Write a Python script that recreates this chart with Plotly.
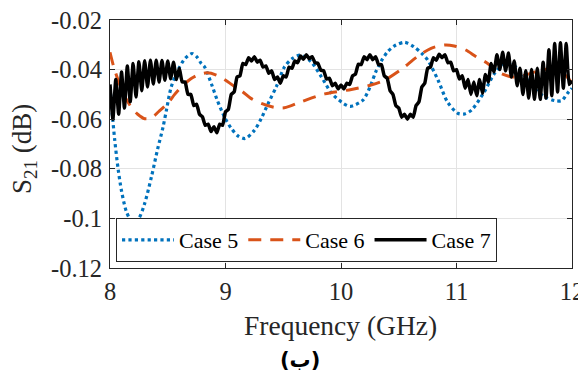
import numpy as np
import plotly.graph_objects as go

# ---------------- data ----------------
case5_freq = [8.00, 8.02, 8.04, 8.07, 8.10, 8.14, 8.18, 8.21, 8.25, 8.30, 8.36, 8.41,
              8.46, 8.49, 8.53, 8.59, 8.65, 8.71, 8.75, 8.79, 8.82, 8.88, 8.93, 8.99,
              9.05, 9.11, 9.17, 9.25, 9.31, 9.37, 9.44, 9.51, 9.58, 9.65, 9.74, 9.83,
              9.92, 10.02, 10.08, 10.19, 10.26, 10.30, 10.35, 10.40, 10.46, 10.55, 10.63,
              10.70, 10.75, 10.84, 10.92, 11.01, 11.07, 11.13, 11.24, 11.33, 11.42, 11.50,
              11.58, 11.67, 11.76, 11.85, 11.91, 11.96, 12.00]
case5_s21 = [-0.0470, -0.0580, -0.0680, -0.0800, -0.0890, -0.0970, -0.1008, -0.1015,
             -0.1000, -0.0940, -0.0830, -0.0725, -0.0630, -0.0560, -0.0470, -0.0400,
             -0.0355, -0.0335, -0.0348, -0.0375, -0.0390, -0.0460, -0.0525, -0.0590,
             -0.0637, -0.0668, -0.0678, -0.0645, -0.0597, -0.0536, -0.0469, -0.0390,
             -0.0355, -0.0342, -0.0368, -0.0429, -0.0496, -0.0536, -0.0548, -0.0523,
             -0.0460, -0.0410, -0.0365, -0.0330, -0.0305, -0.0290, -0.0308, -0.0335,
             -0.0361, -0.0442, -0.0529, -0.0576, -0.0579, -0.0563, -0.0490, -0.0415,
             -0.0375, -0.0385, -0.0420, -0.0475, -0.0509, -0.0525, -0.0525, -0.0496,
             -0.0475]

case6_freq = [8.00, 8.03, 8.08, 8.13, 8.18, 8.24, 8.30, 8.36, 8.42, 8.50, 8.56, 8.62,
              8.70, 8.77, 8.84, 8.92, 9.02, 9.08, 9.15, 9.22, 9.31, 9.42, 9.51, 9.66,
              9.86, 10.09, 10.26, 10.38, 10.52, 10.66, 10.78, 10.90, 10.98, 11.08, 11.17,
              11.27, 11.36, 11.47, 11.55, 11.69, 11.78, 11.88, 11.94, 12.00]
case6_s21 = [-0.0330, -0.0385, -0.0455, -0.0510, -0.0549, -0.0580, -0.0598, -0.0595,
             -0.0570, -0.0536, -0.0500, -0.0469, -0.0437, -0.0420, -0.0413, -0.0422,
             -0.0449, -0.0469, -0.0490, -0.0516, -0.0536, -0.0552, -0.0554, -0.0529,
             -0.0498, -0.0480, -0.0462, -0.0442, -0.0400, -0.0348, -0.0314, -0.0301,
             -0.0305, -0.0321, -0.0348, -0.0375, -0.0410, -0.0429, -0.0428, -0.0408,
             -0.0399, -0.0408, -0.0422, -0.0455]

# Case 7 sampled every 0.025 GHz from 8 to 12 GHz (rows of 0.2 GHz)
case7_freq = np.linspace(8.0, 12.0, 161)
case7_s21 = [
    -0.0460, -0.0600, -0.0440, -0.0580, -0.0410, -0.0555, -0.0385, -0.0530,  # 8.0
    -0.0375, -0.0510, -0.0368, -0.0485, -0.0364, -0.0470, -0.0362, -0.0458,  # 8.2
    -0.0362, -0.0450, -0.0363, -0.0443, -0.0365, -0.0437, -0.0370, -0.0440,  # 8.4
    -0.0395, -0.0450, -0.0450, -0.0500, -0.0500, -0.0545, -0.0540, -0.0580,  # 8.6
    -0.0590, -0.0625, -0.0620, -0.0650, -0.0630, -0.0655, -0.0620, -0.0625,  # 8.8
    -0.0570, -0.0560, -0.0500, -0.0490, -0.0430, -0.0425, -0.0375, -0.0380,  # 9.0
    -0.0352, -0.0365, -0.0348, -0.0370, -0.0362, -0.0390, -0.0385, -0.0415,  # 9.2
    -0.0405, -0.0440, -0.0430, -0.0455, -0.0425, -0.0430, -0.0390, -0.0395,  # 9.4
    -0.0365, -0.0372, -0.0345, -0.0358, -0.0340, -0.0356, -0.0348, -0.0372,  # 9.6
    -0.0375, -0.0402, -0.0405, -0.0438, -0.0435, -0.0465, -0.0455, -0.0478,  # 9.8
    -0.0462, -0.0478, -0.0455, -0.0460, -0.0425, -0.0418, -0.0378, -0.0380,  # 10.0
    -0.0348, -0.0360, -0.0340, -0.0360, -0.0348, -0.0380, -0.0380, -0.0425,  # 10.2
    -0.0435, -0.0485, -0.0500, -0.0545, -0.0555, -0.0592, -0.0580, -0.0600,  # 10.4
    -0.0580, -0.0592, -0.0545, -0.0530, -0.0470, -0.0455, -0.0395, -0.0390,  # 10.6
    -0.0352, -0.0362, -0.0338, -0.0352, -0.0340, -0.0372, -0.0370, -0.0405,  # 10.8
    -0.0400, -0.0438, -0.0425, -0.0475, -0.0440, -0.0500, -0.0450, -0.0505,  # 11.0
    -0.0440, -0.0495, -0.0420, -0.0450, -0.0375, -0.0410, -0.0340, -0.0400,  # 11.2
    -0.0330, -0.0405, -0.0333, -0.0430, -0.0365, -0.0465, -0.0395, -0.0500,  # 11.4
    -0.0405, -0.0515, -0.0400, -0.0520, -0.0395, -0.0520, -0.0370, -0.0515,  # 11.6
    -0.0320, -0.0505, -0.0295, -0.0490, -0.0292, -0.0475, -0.0295, -0.0460,  # 11.8
    -0.0445,
]

series_names = ["Case 5", "Case 6", "Case 7"]
x_ticks = [8, 9, 10, 11, 12]
y_ticks = [-0.12, -0.1, -0.08, -0.06, -0.04, -0.02]
y_tick_labels = ["-0.12", "-0.1", "-0.08", "-0.06", "-0.04", "-0.02"]

# ---------------- figure ----------------
SERIF = "Liberation Serif, Times New Roman, serif"

fig = go.Figure()
fig.add_trace(go.Scatter(
    x=case5_freq, y=case5_s21, mode="lines", name=series_names[0],
    line=dict(color="#0072BD", width=3.2, dash="dot", shape="spline", smoothing=0.8)))
fig.add_trace(go.Scatter(
    x=case6_freq, y=case6_s21, mode="lines", name=series_names[1],
    line=dict(color="#D95319", width=3, dash="13px,9px", shape="spline", smoothing=0.8)))
fig.add_trace(go.Scatter(
    x=case7_freq, y=case7_s21, mode="lines", name=series_names[2],
    line=dict(color="#000000", width=3.5, shape="spline", smoothing=0.4)))

axis_common = dict(
    showline=True, linecolor="#262626", linewidth=1, mirror="ticks",
    ticks="inside", ticklen=5, tickcolor="#262626",
    showgrid=True, gridcolor="#e3e3e3", gridwidth=1, zeroline=False,
    tickfont=dict(family=SERIF, size=24.5, color="#262626"),
    automargin=False, ticklabeloverflow="allow",
)

fig.update_xaxes(range=[8, 12], tickvals=x_ticks, ticktext=[str(t) for t in x_ticks],
                 ticklabelstandoff=2, **axis_common)
fig.update_yaxes(range=[-0.12, -0.02], tickvals=y_ticks, ticktext=y_tick_labels,
                 ticklabelstandoff=2, **axis_common)

# page body has an 8px margin: figure is 578x366, offset by 8px
fig.update_layout(
    width=578, height=366,
    margin=dict(l=102, r=14, t=12, b=106, autoexpand=False),
    paper_bgcolor="white", plot_bgcolor="white",
    showlegend=True,
    legend=dict(
        orientation="h", x=0.013, y=0.024, xanchor="left", yanchor="bottom",
        bgcolor="white", bordercolor="#262626", borderwidth=1,
        font=dict(family=SERIF, size=22, color="#000000"),
        itemwidth=52, tracegroupgap=0,
    ),
    annotations=[
        dict(text="Frequency (GHz)", xref="paper", yref="paper", x=0.499, y=-0.232,
             xanchor="center", yanchor="middle", showarrow=False,
             font=dict(family=SERIF, size=27.5, color="#262626")),
        dict(text="S<sub>21</sub> (dB)", xref="paper", yref="paper", x=-0.186, y=0.48,
             xanchor="center", yanchor="middle", textangle=-90, showarrow=False,
             font=dict(family=SERIF, size=27, color="#262626")),
        dict(text="<b>(ب)</b>", xref="paper", yref="paper", x=0.411, y=-0.371,
             xanchor="center", yanchor="middle", showarrow=False,
             font=dict(family="DejaVu Sans", size=21, color="#000000")),
    ],
)

fig.write_html("out.html")
